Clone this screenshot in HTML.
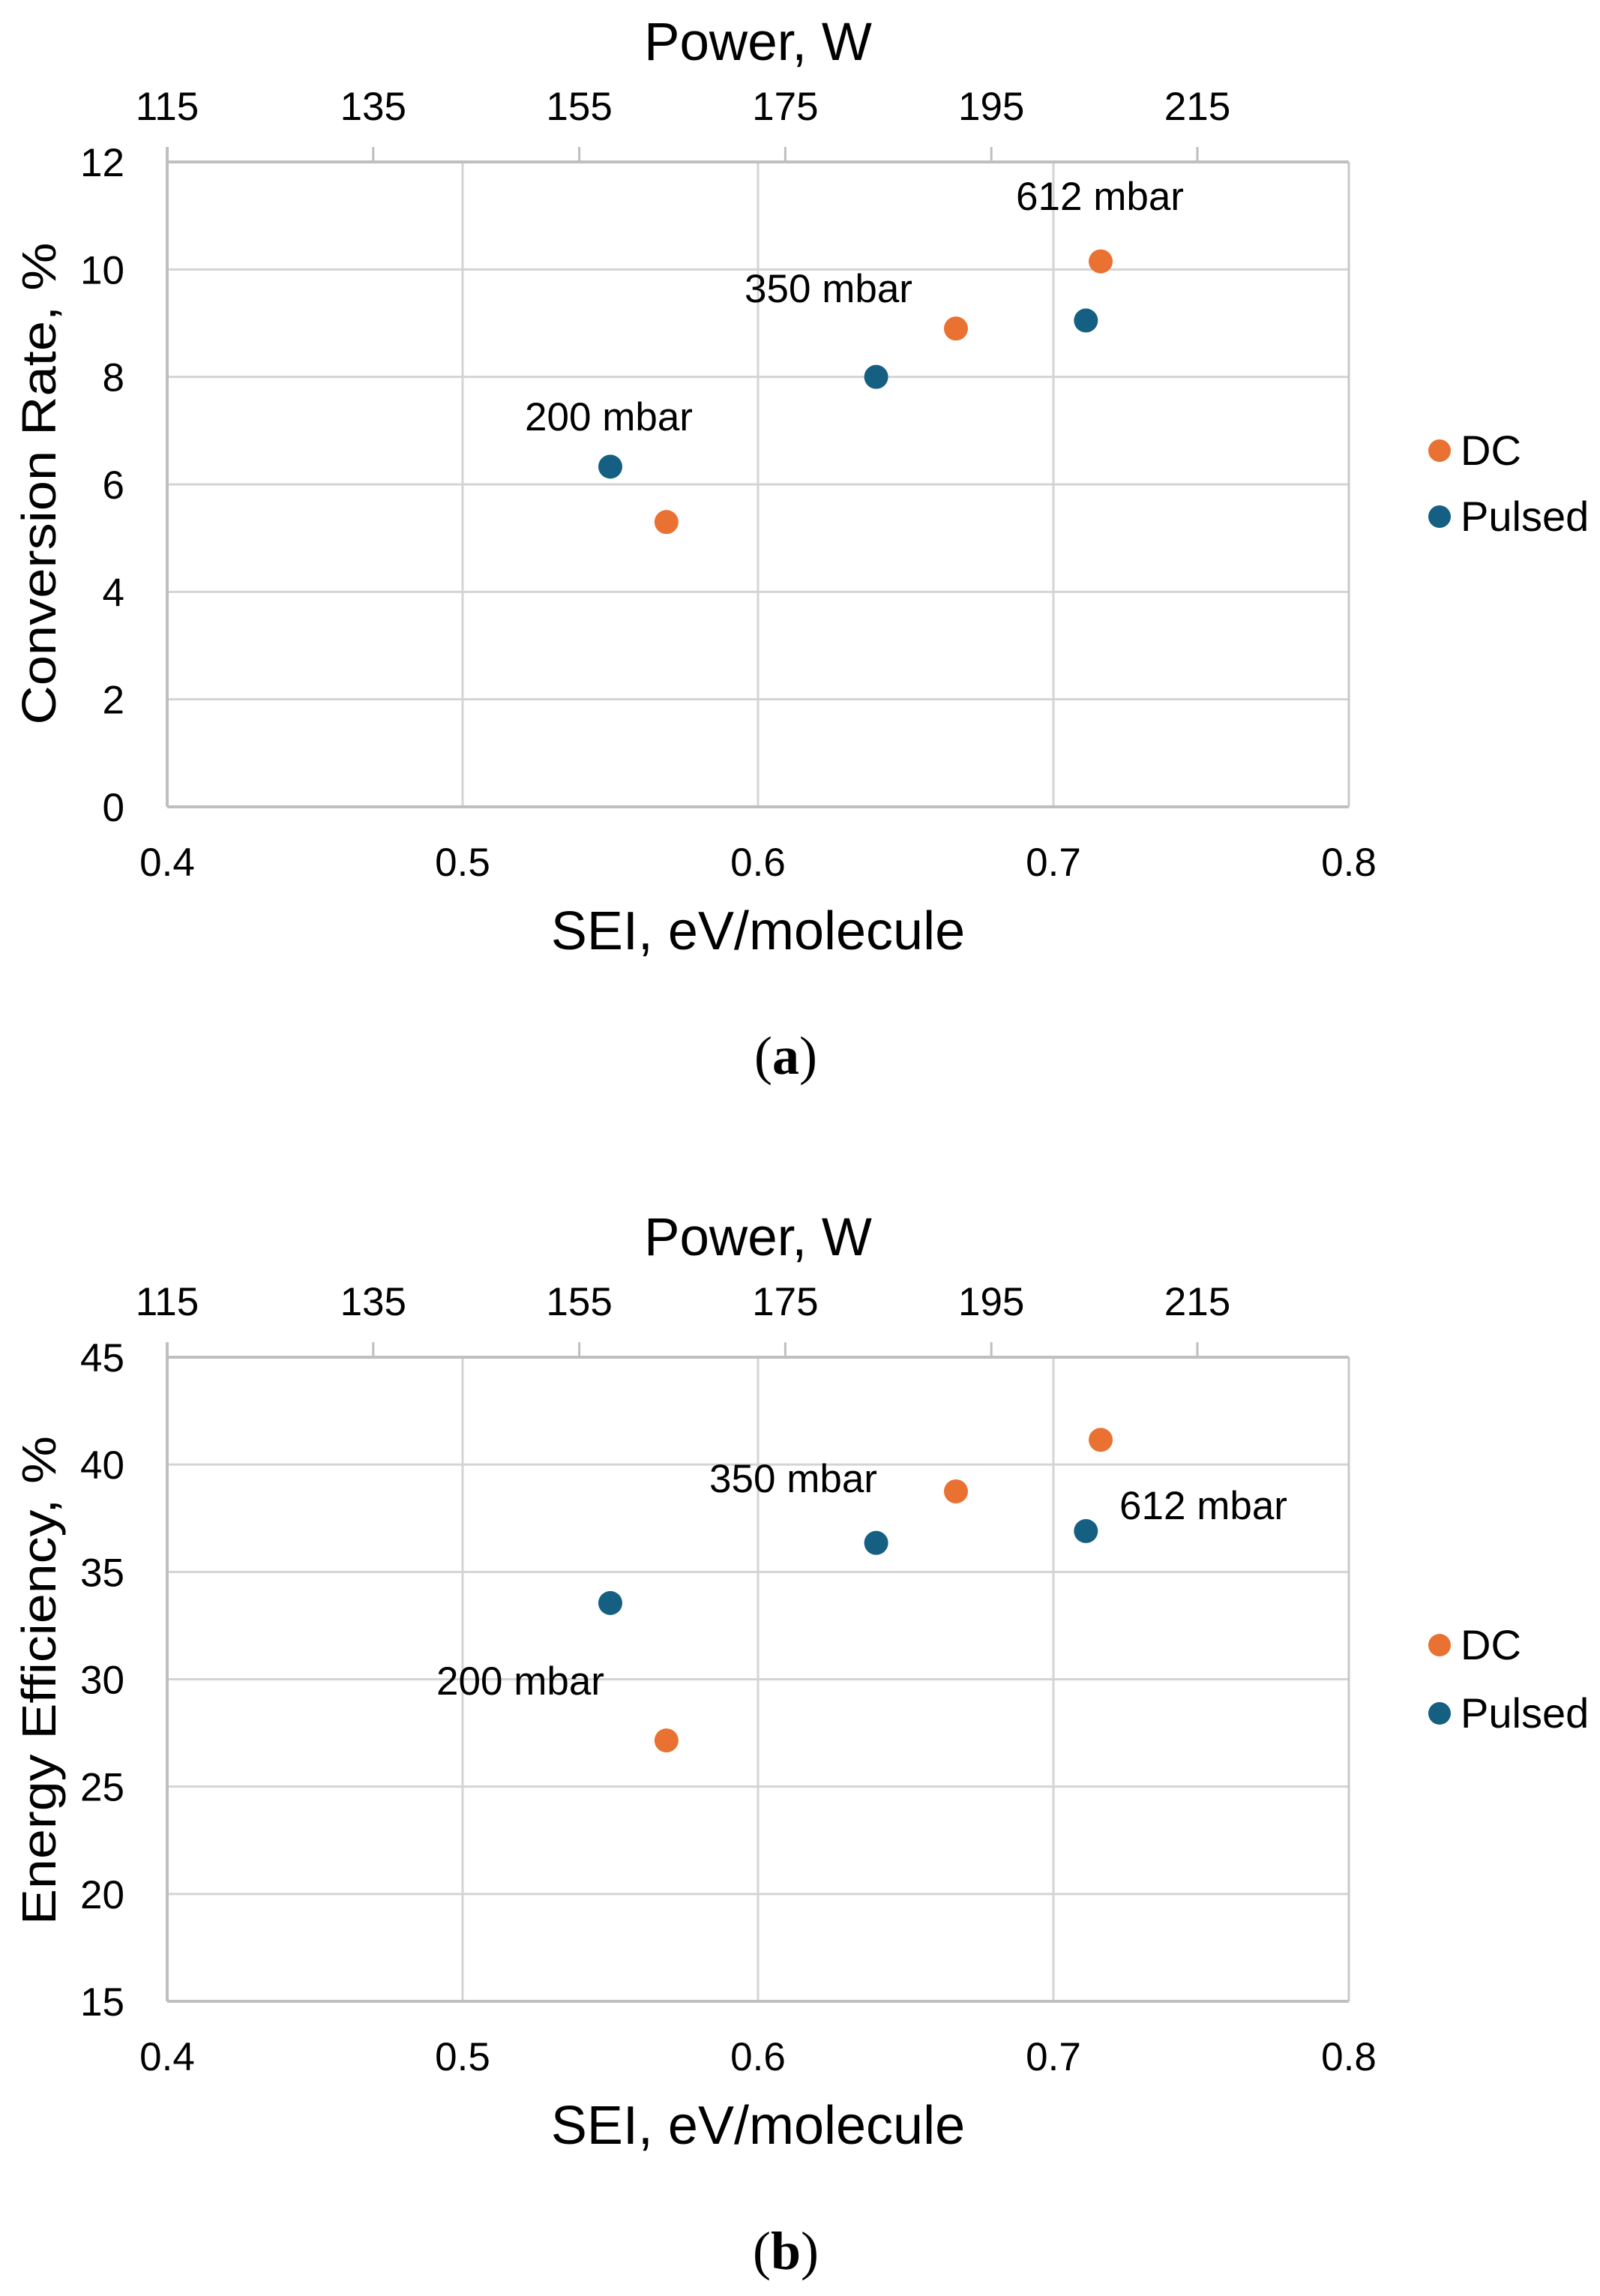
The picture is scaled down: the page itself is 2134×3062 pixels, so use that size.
<!DOCTYPE html>
<html><head><meta charset="utf-8"><style>
html,body{margin:0;padding:0;background:#fff;}
svg{display:block;}
text{font-family:"Liberation Sans",sans-serif;fill:#000;}
</style></head><body>
<svg id="fig" width="2134" height="3062" viewBox="0 0 2134 3062" xmlns="http://www.w3.org/2000/svg"></svg>
<script>
const seiTicks=[0.4,0.5,0.6,0.7,0.8];
const powerTicks=[115,135,155,175,195,215];
const crTicks=[0,2,4,6,8,10,12];
const eeTicks=[15,20,25,30,35,40,45];
const dcSEI=[0.569,0.667,0.716];
const pulsedSEI=[0.55,0.64,0.711];
const dcCR=[5.3,8.9,10.15];
const pulsedCR=[6.33,8.0,9.05];
const dcEE=[27.15,38.75,41.15];
const pulsedEE=[33.55,36.35,36.9];
const pressureLabels=["200 mbar","350 mbar","612 mbar"];

const NS="http://www.w3.org/2000/svg";
const svg=document.getElementById('fig');
function mk(tag,attrs,parent){const e=document.createElementNS(NS,tag);for(const k in attrs)e.setAttribute(k,attrs[k]);(parent||svg).appendChild(e);return e;}
function txt(s,attrs,parent){const e=mk('text',attrs,parent);e.textContent=s;return e;}

function chart(cfg){
  const g=mk('g',{});
  
  
  const L=223,R=1799,T=cfg.top,B=cfg.bottom;
  const xs=v=>L+(v-0.4)/(0.8-0.4)*(R-L);
  const ps=v=>L+(v-115)*13.74;
  const ys=v=>B-(v-cfg.ymin)/(cfg.ymax-cfg.ymin)*(B-T);
  cfg.yTicks.forEach(t=>{const l=mk('line',{x1:L,x2:R,y1:ys(t),y2:ys(t),stroke:'#d4d4d4','stroke-width':3},g);
    
    const tl=txt(String(t),{x:166,y:ys(t)+19,'font-size':53,'text-anchor':'end'},g);
    });
  seiTicks.forEach(t=>{const l=mk('line',{x1:xs(t),x2:xs(t),y1:T,y2:B,stroke:'#d4d4d4','stroke-width':3},g);
    
    const tl=txt(String(t),{x:xs(t),y:B+92,'font-size':53,'text-anchor':'middle'},g);
    });
  const ax=mk('line',{x1:L,x2:R,y1:B,y2:B,stroke:'#bfbfbf','stroke-width':4},g);
  
  const ay=mk('line',{x1:L,x2:L,y1:T-20,y2:B,stroke:'#bfbfbf','stroke-width':4},g);
  
  const at=mk('line',{x1:L,x2:R,y1:T,y2:T,stroke:'#bfbfbf','stroke-width':4},g);
  
  const ar=mk('line',{x1:R,x2:R,y1:T,y2:B,stroke:'#c8c8c8','stroke-width':3},g);
  
  powerTicks.forEach(t=>{const tk=mk('line',{x1:ps(t),x2:ps(t),y1:T-20,y2:T,stroke:'#bfbfbf','stroke-width':3},g);
    
    const tl=txt(String(t),{x:ps(t),y:T-56,'font-size':53,'text-anchor':'middle'},g);
    });
  const tt=txt('Power, W',{x:1011,y:T-136,'font-size':71,'text-anchor':'middle'},g);
  
  const xt=txt('SEI, eV/molecule',{x:1011,y:B+190,'font-size':72,'text-anchor':'middle'},g);
  
  const yt=txt(cfg.ytitle,{x:0,y:0,'font-size':64,'text-anchor':'middle',textLength:cfg.ylen,lengthAdjust:'spacingAndGlyphs',transform:`translate(74,${cfg.ymid}) rotate(-90)`},g);
  
  dcSEI.forEach((v,i)=>{const c=mk('circle',{cx:xs(v),cy:ys(cfg.dc[i]),r:16,fill:'#E97132'},g);
    });
  pulsedSEI.forEach((v,i)=>{const c=mk('circle',{cx:xs(v),cy:ys(cfg.pulsed[i]),r:16,fill:'#156082'},g);
    });
  cfg.labels.forEach((p,i)=>{const l=txt(pressureLabels[i],{x:p[0],y:p[1]+18,'font-size':53,'text-anchor':'middle'},g);
    });
  const lg=mk('g',{},g);
  
  [['DC','#E97132',cfg.leg[0]],['Pulsed','#156082',cfg.leg[1]]].forEach(e=>{
    const c=mk('circle',{cx:1920,cy:e[2],r:15,fill:e[1]},lg);
    
    const t=txt(e[0],{x:1948,y:e[2]+19,'font-size':56},lg);
    });
  const cap=mk('text',{x:1048,y:cfg.cap,'font-size':72,'text-anchor':'middle'},g);
  cap.style.fontFamily='"Liberation Serif",serif';
  cap.innerHTML='(<tspan font-weight="bold">'+cfg.capLetter+'</tspan>)';
  
}
chart({name:'conversion-rate-chart',top:216,bottom:1076,ymin:0,ymax:12,yTicks:crTicks,dc:dcCR,pulsed:pulsedCR,
  ytitle:'Conversion Rate, %',ylen:643,ymid:645,labels:[[812,556],[1105,385],[1467,262]],leg:[601,689],cap:1432,capLetter:'a'});
chart({name:'energy-efficiency-chart',top:1810,bottom:2669,ymin:15,ymax:45,yTicks:eeTicks,dc:dcEE,pulsed:pulsedEE,
  ytitle:'Energy Efficiency, %',ylen:652,ymid:2241,labels:[[694,2242],[1058,1972],[1605,2008]],leg:[2194,2285],cap:3026,capLetter:'b'});
</script>
</body></html>
